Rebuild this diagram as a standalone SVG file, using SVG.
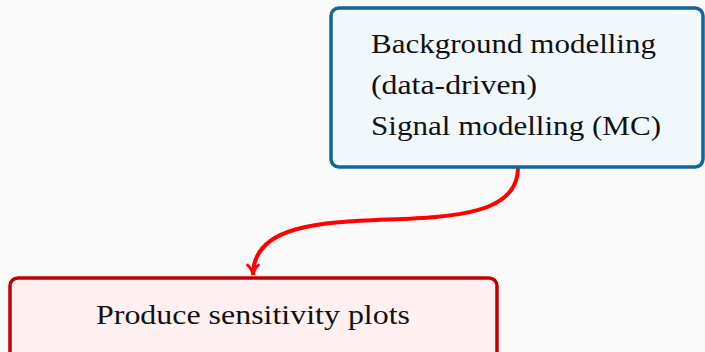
<svg xmlns="http://www.w3.org/2000/svg" width="705" height="352" viewBox="0 0 705 352">
<style>
.t{font-family:"Liberation Serif","Times New Roman",serif;font-size:27px;fill:#111111}
.top{fill:#f1f8fc;stroke:#10669a;stroke-width:3.5}
.bot{fill:#fff1f1;stroke:#c00000;stroke-width:3.5}
.edge{fill:none;stroke:#ff0000;stroke-width:4}
</style>
<defs>
<marker id="arr" viewBox="0 0 14 14" refX="12" refY="7" markerWidth="14" markerHeight="14" markerUnits="userSpaceOnUse" orient="auto">
<path d="M2,1.5 Q6,6 12,7 Q6,8 2,12.5" fill="none" stroke="#ff0000" stroke-width="2.8" stroke-linecap="round"/>
</marker>
</defs>
<rect width="705" height="352" fill="#fafafa"/>
<g id="connectors">
<path class="edge" d="M518,168 C518,262 253,176 253,275" marker-end="url(#arr)"/>
</g>
<g id="node-modelling">
<rect class="top" x="331" y="8" width="372" height="159" rx="8"/>
<text class="t" x="371" y="53" textLength="285" lengthAdjust="spacingAndGlyphs">Background modelling</text>
<text class="t" x="371" y="94" textLength="166" lengthAdjust="spacingAndGlyphs">(data-driven)</text>
<text class="t" x="371" y="135" textLength="290" lengthAdjust="spacingAndGlyphs">Signal modelling (MC)</text>
</g>
<g id="node-plots">
<rect class="bot" x="10" y="278" width="487" height="85" rx="8"/>
<text class="t" x="96" y="324" textLength="314" lengthAdjust="spacingAndGlyphs">Produce sensitivity plots</text>
</g>
</svg>
